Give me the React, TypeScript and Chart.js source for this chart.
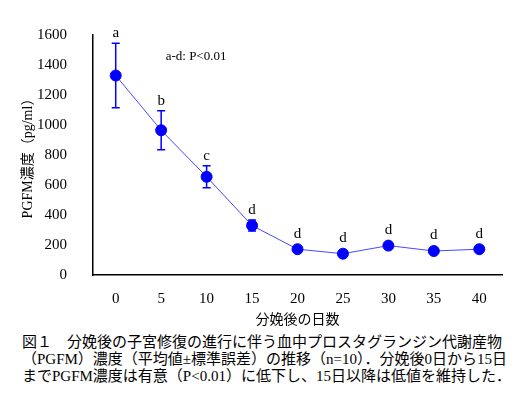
import React, { useEffect, useRef } from "react";
import { Chart, registerables } from "chart.js";

Chart.register(...registerables);

const days = [0, 5, 10, 15, 20, 25, 30, 35, 40];
const meanValues = [1330, 965, 655, 330, 172, 142, 196, 160, 172];
const seValues = [215, 130, 74, 37, 15, 12, 15, 15, 12];
const sigLetters = ["a", "b", "c", "d", "d", "d", "d", "d", "d"];
const xTicks = [0, 5, 10, 15, 20, 25, 30, 35, 40];
const yTicks = [0, 200, 400, 600, 800, 1000, 1200, 1400, 1600];
const noteText = "a-d: P<0.01";
const yTitle = "PGFM濃度（pg/ml）";
const xTitle = "分娩後の日数";
const captionLines = [
  "図１　分娩後の子宮修復の進行に伴う血中プロスタグランジン代謝産物",
  "（PGFM）濃度（平均値±標準誤差）の推移（n=10）．分娩後0日から15日",
  "までPGFM濃度は有意（P<0.01）に低下し、15日以降は低値を維持した．",
];

const SERIF = "'Liberation Serif', 'Noto Sans CJK JP', serif";

const errorBarPlugin = {
  id: "errorBars",
  afterDatasetsDraw(chart: any) {
    const ctx = chart.ctx;
    const xs = chart.scales.x;
    const ys = chart.scales.y;
    ctx.save();
    ctx.strokeStyle = "#0000ff";
    ctx.lineWidth = 1.5;
    days.forEach((d, i) => {
      const px = xs.getPixelForValue(d);
      const top = ys.getPixelForValue(meanValues[i] + seValues[i]);
      const bot = ys.getPixelForValue(meanValues[i] - seValues[i]);
      ctx.beginPath();
      ctx.moveTo(px, top);
      ctx.lineTo(px, bot);
      ctx.moveTo(px - 4, top);
      ctx.lineTo(px + 4, top);
      ctx.moveTo(px - 4, bot);
      ctx.lineTo(px + 4, bot);
      ctx.stroke();
    });
    ctx.fillStyle = "#000";
    ctx.font = "15px " + SERIF;
    ctx.textAlign = "center";
    ctx.textBaseline = "middle";
    days.forEach((d, i) => {
      const px = xs.getPixelForValue(d);
      const top = Math.min(
        ys.getPixelForValue(meanValues[i] + seValues[i]),
        ys.getPixelForValue(meanValues[i]) - 5.5
      );
      ctx.fillText(sigLetters[i], px, top - 10);
    });
    ctx.font = "13px " + SERIF;
    ctx.textAlign = "left";
    ctx.fillText(noteText, xs.getPixelForValue(5.5), ys.getPixelForValue(1455));
    ctx.restore();
  },
};

export default function App() {
  const ref = useRef<HTMLCanvasElement | null>(null);
  useEffect(() => {
    if (!ref.current) return;
    const chart = new Chart(ref.current, {
      type: "scatter",
      data: {
        datasets: [
          {
            data: days.map((d, i) => ({ x: d, y: meanValues[i] })),
            showLine: true,
            borderColor: "rgba(40,40,255,0.85)",
            borderWidth: 1,
            backgroundColor: "#0000ff",
            pointBackgroundColor: "#0000ff",
            pointBorderColor: "#0000ff",
            pointRadius: 5.5,
          },
        ],
      },
      options: {
        responsive: false,
        animation: false,
        events: [],
        layout: { padding: { left: 12, right: 17, top: 35, bottom: 0 } },
        plugins: { legend: { display: false }, tooltip: { enabled: false } },
        scales: {
          x: {
            type: "linear",
            min: -2.5,
            max: 42.5,
            afterBuildTicks: (s: any) => {
              s.ticks = xTicks.map((v) => ({ value: v }));
            },
            afterFit: (s: any) => {
              s.height = 55;
            },
            grid: { display: false },
            border: { display: true, color: "#000", width: 1.5 },
            ticks: {
              padding: 7,
              color: "#000",
              font: { family: SERIF, size: 15 },
              maxRotation: 0,
              callback: (v: any) => String(v),
            },
            title: {
              display: true,
              text: xTitle,
              color: "#000",
              font: { family: SERIF, size: 14 },
              padding: { top: 0, bottom: 1 },
            },
          },
          y: {
            type: "linear",
            min: 0,
            max: 1600,
            afterBuildTicks: (s: any) => {
              s.ticks = yTicks.map((v) => ({ value: v }));
            },
            afterFit: (s: any) => {
              s.width = 81;
            },
            grid: { display: false },
            border: { display: true, color: "#000", width: 1.5 },
            ticks: {
              padding: 18,
              color: "#000",
              font: { family: SERIF, size: 15 },
              callback: (v: any) => String(v),
            },
            title: {
              display: true,
              text: yTitle,
              color: "#000",
              font: { family: SERIF, size: 14 },
              padding: { top: 8, bottom: 0 },
            },
          },
        },
      },
      plugins: [errorBarPlugin],
    } as any);
    return () => chart.destroy();
  }, []);

  return (
    <div
      style={{
        position: "absolute",
        left: 0,
        top: 0,
        width: 519,
        height: 395,
        background: "#fff",
      }}
    >
      <canvas
        ref={ref}
        width={519}
        height={330}
        style={{ position: "absolute", left: 0, top: 0, width: 519, height: 330 }}
      />
      <div
        style={{
          position: "absolute",
          left: 22,
          top: 334,
          fontFamily: SERIF,
          fontSize: 15,
          lineHeight: "17px",
          color: "#000",
          whiteSpace: "nowrap",
        }}
      >
        {captionLines.map((l, i) => (
          <div key={i}>{l}</div>
        ))}
      </div>
    </div>
  );
}
